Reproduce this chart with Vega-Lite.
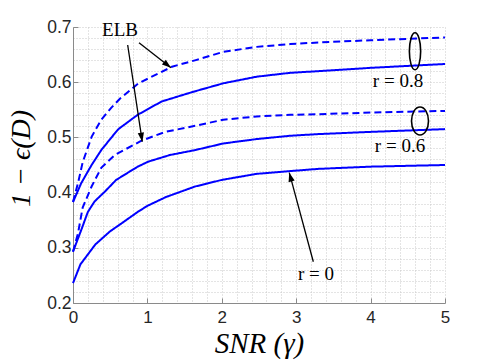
{
  "$schema": "https://vega.github.io/schema/vega-lite/v6.json",
  "width": 372,
  "height": 276,
  "autosize": {"type": "none"},
  "padding": {"left": 73, "top": 27, "right": 35, "bottom": 57},
  "background": "white",
  "config": {"view": {"stroke": null}},
  "datasets": {
    "curves": [
      {"curve": "r0", "bound": "exact", "x": 0, "y": 0.236},
      {"curve": "r0", "bound": "exact", "x": 0.1, "y": 0.270},
      {"curve": "r0", "bound": "exact", "x": 0.3, "y": 0.306},
      {"curve": "r0", "bound": "exact", "x": 0.5, "y": 0.330},
      {"curve": "r0", "bound": "exact", "x": 0.65, "y": 0.344},
      {"curve": "r0", "bound": "exact", "x": 0.87, "y": 0.365},
      {"curve": "r0", "bound": "exact", "x": 1.0, "y": 0.376},
      {"curve": "r0", "bound": "exact", "x": 1.25, "y": 0.392},
      {"curve": "r0", "bound": "exact", "x": 1.64, "y": 0.411},
      {"curve": "r0", "bound": "exact", "x": 2.0, "y": 0.423},
      {"curve": "r0", "bound": "exact", "x": 2.47, "y": 0.434},
      {"curve": "r0", "bound": "exact", "x": 2.92, "y": 0.439},
      {"curve": "r0", "bound": "exact", "x": 3.3, "y": 0.443},
      {"curve": "r0", "bound": "exact", "x": 4.0, "y": 0.447},
      {"curve": "r0", "bound": "exact", "x": 5.0, "y": 0.450},

      {"curve": "r06", "bound": "exact", "x": 0, "y": 0.293},
      {"curve": "r06", "bound": "exact", "x": 0.11, "y": 0.332},
      {"curve": "r06", "bound": "exact", "x": 0.2, "y": 0.365},
      {"curve": "r06", "bound": "exact", "x": 0.29, "y": 0.384},
      {"curve": "r06", "bound": "exact", "x": 0.43, "y": 0.402},
      {"curve": "r06", "bound": "exact", "x": 0.58, "y": 0.423},
      {"curve": "r06", "bound": "exact", "x": 0.87, "y": 0.447},
      {"curve": "r06", "bound": "exact", "x": 1.01, "y": 0.456},
      {"curve": "r06", "bound": "exact", "x": 1.3, "y": 0.468},
      {"curve": "r06", "bound": "exact", "x": 1.64, "y": 0.477},
      {"curve": "r06", "bound": "exact", "x": 2.02, "y": 0.489},
      {"curve": "r06", "bound": "exact", "x": 2.47, "y": 0.497},
      {"curve": "r06", "bound": "exact", "x": 2.92, "y": 0.503},
      {"curve": "r06", "bound": "exact", "x": 3.3, "y": 0.506},
      {"curve": "r06", "bound": "exact", "x": 4.0, "y": 0.510},
      {"curve": "r06", "bound": "exact", "x": 5.0, "y": 0.515},

      {"curve": "r06e", "bound": "ELB", "x": 0, "y": 0.293},
      {"curve": "r06e", "bound": "ELB", "x": 0.067, "y": 0.326},
      {"curve": "r06e", "bound": "ELB", "x": 0.13, "y": 0.373},
      {"curve": "r06e", "bound": "ELB", "x": 0.25, "y": 0.411},
      {"curve": "r06e", "bound": "ELB", "x": 0.38, "y": 0.445},
      {"curve": "r06e", "bound": "ELB", "x": 0.56, "y": 0.468},
      {"curve": "r06e", "bound": "ELB", "x": 0.81, "y": 0.486},
      {"curve": "r06e", "bound": "ELB", "x": 0.92, "y": 0.494},
      {"curve": "r06e", "bound": "ELB", "x": 1.24, "y": 0.510},
      {"curve": "r06e", "bound": "ELB", "x": 1.64, "y": 0.521},
      {"curve": "r06e", "bound": "ELB", "x": 2.02, "y": 0.532},
      {"curve": "r06e", "bound": "ELB", "x": 2.47, "y": 0.538},
      {"curve": "r06e", "bound": "ELB", "x": 2.92, "y": 0.541},
      {"curve": "r06e", "bound": "ELB", "x": 3.3, "y": 0.542},
      {"curve": "r06e", "bound": "ELB", "x": 4.0, "y": 0.545},
      {"curve": "r06e", "bound": "ELB", "x": 5.0, "y": 0.548},

      {"curve": "r08", "bound": "exact", "x": 0, "y": 0.383},
      {"curve": "r08", "bound": "exact", "x": 0.11, "y": 0.417},
      {"curve": "r08", "bound": "exact", "x": 0.25, "y": 0.450},
      {"curve": "r08", "bound": "exact", "x": 0.38, "y": 0.477},
      {"curve": "r08", "bound": "exact", "x": 0.56, "y": 0.507},
      {"curve": "r08", "bound": "exact", "x": 0.61, "y": 0.515},
      {"curve": "r08", "bound": "exact", "x": 0.74, "y": 0.528},
      {"curve": "r08", "bound": "exact", "x": 0.87, "y": 0.541},
      {"curve": "r08", "bound": "exact", "x": 1.19, "y": 0.565},
      {"curve": "r08", "bound": "exact", "x": 1.6, "y": 0.582},
      {"curve": "r08", "bound": "exact", "x": 2.02, "y": 0.598},
      {"curve": "r08", "bound": "exact", "x": 2.47, "y": 0.610},
      {"curve": "r08", "bound": "exact", "x": 2.92, "y": 0.617},
      {"curve": "r08", "bound": "exact", "x": 3.3, "y": 0.620},
      {"curve": "r08", "bound": "exact", "x": 4.0, "y": 0.626},
      {"curve": "r08", "bound": "exact", "x": 5.0, "y": 0.633},

      {"curve": "r08e", "bound": "ELB", "x": 0, "y": 0.383},
      {"curve": "r08e", "bound": "ELB", "x": 0.067, "y": 0.417},
      {"curve": "r08e", "bound": "ELB", "x": 0.13, "y": 0.455},
      {"curve": "r08e", "bound": "ELB", "x": 0.25, "y": 0.501},
      {"curve": "r08e", "bound": "ELB", "x": 0.38, "y": 0.532},
      {"curve": "r08e", "bound": "ELB", "x": 0.51, "y": 0.553},
      {"curve": "r08e", "bound": "ELB", "x": 0.63, "y": 0.570},
      {"curve": "r08e", "bound": "ELB", "x": 0.88, "y": 0.598},
      {"curve": "r08e", "bound": "ELB", "x": 1.33, "y": 0.628},
      {"curve": "r08e", "bound": "ELB", "x": 1.65, "y": 0.640},
      {"curve": "r08e", "bound": "ELB", "x": 2.02, "y": 0.655},
      {"curve": "r08e", "bound": "ELB", "x": 2.47, "y": 0.664},
      {"curve": "r08e", "bound": "ELB", "x": 2.92, "y": 0.669},
      {"curve": "r08e", "bound": "ELB", "x": 3.3, "y": 0.672},
      {"curve": "r08e", "bound": "ELB", "x": 4.0, "y": 0.676},
      {"curve": "r08e", "bound": "ELB", "x": 5.0, "y": 0.681}
    ],
    "labels": [
      {"label": "ELB", "x": 0.632, "y": 0.6946},
      {"label": "r = 0.8", "x": 4.368, "y": 0.602},
      {"label": "r = 0.6", "x": 4.395, "y": 0.484},
      {"label": "r = 0", "x": 3.266, "y": 0.2525}
    ],
    "arrows": [
      {"arrow": "elb1", "x": 0.887, "y": 0.6716, "x2": 1.317, "y2": 0.6263},
      {"arrow": "elb2", "x": 0.735, "y": 0.6674, "x2": 0.931, "y2": 0.4922},
      {"arrow": "r0", "x": 3.230, "y": 0.2748, "x2": 2.907, "y2": 0.4361}
    ],
    "ellipses": [
      {"group": "r08", "x": 4.597, "y": 0.656},
      {"group": "r06", "x": 4.664, "y": 0.5297}
    ]
  },
  "layer": [
    {
      "data": {"name": "curves"},
      "mark": {"type": "line", "color": "#0000FF", "strokeWidth": 2},
      "encoding": {
        "x": {
          "field": "x", "type": "quantitative",
          "scale": {"domain": [0, 5], "nice": false, "zero": false},
          "axis": {
            "values": [0,0.2,0.4,0.6,0.8,1,1.2,1.4,1.6,1.8,2,2.2,2.4,2.6,2.8,3,3.2,3.4,3.6,3.8,4,4.2,4.4,4.6,4.8,5],
            "tickCount": 100,
            "grid": true, "gridColor": "#c8c8c8", "gridDash": [1, 2], "gridWidth": 1,
            "domainColor": "#8a8a8a", "domainWidth": 1,
            "tickColor": "#8a8a8a", "tickSize": -5,
            "tickOpacity": {"condition": {"test": "datum.value % 1 === 0", "value": 1}, "value": 0},
            "labelExpr": "datum.value % 1 === 0 ? format(datum.value, 'd') : ''",
            "labelOverlap": false, "labelFlush": false,
            "labelFont": "Liberation Sans", "labelFontSize": 17, "labelColor": "#262626", "labelPadding": 11,
            "title": "SNR (γ)", "titleFont": "Liberation Serif", "titleFontStyle": "italic",
            "titleFontWeight": "normal", "titleFontSize": 29, "titleColor": "#000000",
            "titleBaseline": "alphabetic", "titleY": 49
          }
        },
        "y": {
          "field": "y", "type": "quantitative",
          "scale": {"domain": [0.2, 0.7], "nice": false, "zero": false},
          "axis": {
            "values": [0.2,0.22,0.24,0.26,0.28,0.3,0.32,0.34,0.36,0.38,0.4,0.42,0.44,0.46,0.48,0.5,0.52,0.54,0.56,0.58,0.6,0.62,0.64,0.66,0.68,0.7],
            "tickCount": 100,
            "grid": true, "gridColor": "#c8c8c8", "gridDash": [1, 2], "gridWidth": 1,
            "domainColor": "#8a8a8a", "domainWidth": 1,
            "tickColor": "#8a8a8a", "tickSize": -5,
            "tickOpacity": {"condition": {"test": "abs(datum.value * 10 - round(datum.value * 10)) < 0.001", "value": 1}, "value": 0},
            "labelExpr": "abs(datum.value * 10 - round(datum.value * 10)) < 0.001 ? format(datum.value, '.1f') : ''",
            "labelOverlap": false, "labelFlush": false,
            "labelFont": "Liberation Sans", "labelFontSize": 17.5, "labelColor": "#262626", "labelPadding": 7,
            "title": "1 − ϵ(D)", "titleFont": "Liberation Serif", "titleFontStyle": "italic",
            "titleFontWeight": "normal", "titleFontSize": 28, "titleColor": "#000000",
            "titleBaseline": "alphabetic", "titleX": -44, "titleY": 131, "titleAlign": "center"
          }
        },
        "detail": {"field": "curve"},
        "strokeDash": {
          "field": "bound", "type": "nominal",
          "scale": {"domain": ["exact", "ELB"], "range": [[1, 0], [7, 4]]},
          "legend": null
        }
      }
    },
    {
      "data": {"name": "arrows"},
      "mark": {"type": "rule", "color": "black", "strokeWidth": 1.3},
      "encoding": {
        "x": {"field": "x", "type": "quantitative"},
        "y": {"field": "y", "type": "quantitative"},
        "x2": {"field": "x2"},
        "y2": {"field": "y2"}
      }
    },
    {
      "data": {"name": "arrows"},
      "transform": [{"filter": "datum.arrow === 'elb1'"}],
      "mark": {"type": "point", "shape": "M0,0L-0.35,1L0.35,1Z", "filled": true, "color": "black", "opacity": 1, "size": 324, "angle": 128},
      "encoding": {
        "x": {"field": "x2", "type": "quantitative"},
        "y": {"field": "y2", "type": "quantitative"}
      }
    },
    {
      "data": {"name": "arrows"},
      "transform": [{"filter": "datum.arrow === 'elb2'"}],
      "mark": {"type": "point", "shape": "M0,0L-0.35,1L0.35,1Z", "filled": true, "color": "black", "opacity": 1, "size": 324, "angle": 171},
      "encoding": {
        "x": {"field": "x2", "type": "quantitative"},
        "y": {"field": "y2", "type": "quantitative"}
      }
    },
    {
      "data": {"name": "arrows"},
      "transform": [{"filter": "datum.arrow === 'r0'"}],
      "mark": {"type": "point", "shape": "M0,0L-0.35,1L0.35,1Z", "filled": true, "color": "black", "opacity": 1, "size": 324, "angle": 345},
      "encoding": {
        "x": {"field": "x2", "type": "quantitative"},
        "y": {"field": "y2", "type": "quantitative"}
      }
    },
    {
      "data": {"name": "ellipses"},
      "transform": [{"filter": "datum.group === 'r08'"}],
      "mark": {"type": "point", "shape": "M0,-1C0.168,-1 0.305,-0.552 0.305,0C0.305,0.552 0.168,1 0,1C-0.168,1 -0.305,0.552 -0.305,0C-0.305,-0.552 -0.168,-1 0,-1Z", "filled": false, "color": "black", "opacity": 1, "strokeWidth": 1.6, "size": 1369},
      "encoding": {
        "x": {"field": "x", "type": "quantitative"},
        "y": {"field": "y", "type": "quantitative"}
      }
    },
    {
      "data": {"name": "ellipses"},
      "transform": [{"filter": "datum.group === 'r06'"}],
      "mark": {"type": "point", "shape": "M0,-1C0.335,-1 0.607,-0.552 0.607,0C0.607,0.552 0.335,1 0,1C-0.335,1 -0.607,0.552 -0.607,0C-0.607,-0.552 -0.335,-1 0,-1Z", "filled": false, "color": "black", "opacity": 1, "strokeWidth": 1.6, "size": 784},
      "encoding": {
        "x": {"field": "x", "type": "quantitative"},
        "y": {"field": "y", "type": "quantitative"}
      }
    },
    {
      "data": {"name": "labels"},
      "mark": {"type": "text", "font": "Liberation Serif", "fontSize": 19, "color": "black", "align": "center", "baseline": "middle"},
      "encoding": {
        "x": {"field": "x", "type": "quantitative"},
        "y": {"field": "y", "type": "quantitative"},
        "text": {"field": "label"}
      }
    }
  ]
}
